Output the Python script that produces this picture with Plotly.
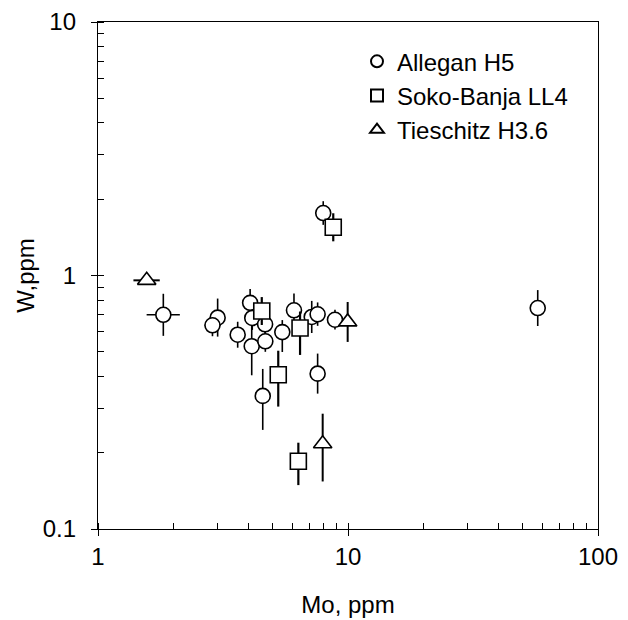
import plotly.graph_objects as go

# ---- Data ----
allegan_mo = [1.825, 3.01, 2.87, 3.62, 4.06, 4.14, 4.66, 4.12, 4.67, 5.46, 6.08, 7.16, 7.56, 8.87, 7.56, 4.56, 7.96, 57.4]
allegan_w = [0.70, 0.682, 0.636, 0.584, 0.78, 0.68, 0.642, 0.526, 0.55, 0.598, 0.729, 0.686, 0.703, 0.669, 0.41, 0.335, 1.764, 0.744]
allegan_w_up = [0.147, 0.129, 0.067, 0.073, 0.105, 0.08, 0.08, 0.158, 0.05, 0.069, 0.12, 0.108, 0.08, 0.064, 0.082, 0.093, 0.2, 0.132]
allegan_w_dn = [0.122, 0.108, 0.06, 0.065, 0.09, 0.07, 0.07, 0.122, 0.05, 0.099, 0.104, 0.093, 0.07, 0.057, 0.068, 0.089, 0.18, 0.112]
allegan_mo_up = [0.30, 0, 0.22, 0, 0, 0, 0, 0, 0, 0, 0, 0, 0, 0, 0, 0.0, 0, 0]
allegan_mo_dn = [0.26, 0, 0.20, 0, 0, 0, 0, 0, 0, 0, 0, 0, 0, 0, 0, 0.3, 0, 0]

soko_mo = [4.52, 6.43, 5.26, 6.33, 8.73]
soko_w = [0.724, 0.621, 0.406, 0.185, 1.55]
soko_w_up = [0.098, 0.10, 0.099, 0.034, 0.21]
soko_w_dn = [0.086, 0.135, 0.102, 0.036, 0.186]

ties_mo = [1.566, 9.97, 7.92]
ties_w = [0.957, 0.656, 0.217]
ties_w_up = [0.03, 0.13, 0.068]
ties_w_dn = [0.03, 0.109, 0.063]
ties_mo_up = [0.2, 0, 0]
ties_mo_dn = [0.18, 0, 0]

x_ticks = [1, 10, 100]
x_ticklabels = ["1", "10", "100"]
y_ticks = [0.1, 1, 10]
y_ticklabels = ["0.1", "1", "10"]

FONT = "Liberation Sans, Arial, sans-serif"
FS = 24
LW = 1.6

def err(up, dn, thick=LW):
    return dict(type="data", symmetric=False, array=up, arrayminus=dn,
                color="black", thickness=thick, width=0)

fig = go.Figure()
fig.add_trace(go.Scatter(
    x=allegan_mo, y=allegan_w, mode="markers", name="Allegan H5",
    marker=dict(symbol="circle", size=15, color="white", line=dict(color="black", width=LW)),
    error_y=err(allegan_w_up, allegan_w_dn),
    error_x=err(allegan_mo_up, allegan_mo_dn),
))
fig.add_trace(go.Scatter(
    x=soko_mo, y=soko_w, mode="markers", name="Soko-Banja LL4",
    marker=dict(symbol="square", size=16, color="white", line=dict(color="black", width=LW)),
    error_y=err(soko_w_up, soko_w_dn, 2.2),
))
fig.add_trace(go.Scatter(
    x=ties_mo, y=ties_w, mode="markers", name="Tieschitz H3.6",
    marker=dict(symbol="triangle-up", size=16, color="white", line=dict(color="black", width=LW)),
    error_y=err(ties_w_up, ties_w_dn, 2.0),
    error_x=err(ties_mo_up, ties_mo_dn, 2.0),
))
# invisible trace on overlay axes (for inner half of major ticks)
fig.add_trace(go.Scatter(x=[x_ticks[1]], y=[y_ticks[1]], xaxis="x2", yaxis="y2",
                         mode="markers", marker=dict(opacity=0), showlegend=False, hoverinfo="skip"))

axis_common = dict(
    type="log", showgrid=False, zeroline=False, showline=True, linecolor="black",
    linewidth=1.3, mirror=True, ticks="outside", ticklen=6, tickwidth=1.3,
    tickcolor="black", tickfont=dict(family=FONT, size=FS, color="black"),
    minor=dict(ticks="inside", ticklen=6, tickwidth=1.1, tickcolor="black", showgrid=False, dtick="D1"),
    automargin=False,
)

fig.update_layout(
    width=628, height=620,
    margin=dict(l=90, r=38, t=14, b=99),
    paper_bgcolor="white", plot_bgcolor="white",
    font=dict(family=FONT, size=FS, color="black"),
    xaxis=dict(axis_common, range=[0, 2], tickvals=x_ticks, ticktext=x_ticklabels,
               title=dict(text="Mo, ppm", font=dict(family=FONT, size=FS), standoff=27)),
    yaxis=dict(axis_common, range=[-1, 1], tickvals=y_ticks, ticktext=y_ticklabels,
               ticklabelstandoff=10,
               title=dict(text="W,ppm", font=dict(family=FONT, size=FS), standoff=1)),
    xaxis2=dict(type="log", range=[0, 2], overlaying="x", anchor="y2", side="bottom",
                showgrid=False, zeroline=False, showline=False, ticks="inside", ticklen=6,
                tickwidth=1.3, tickcolor="black", tickvals=x_ticks, showticklabels=False),
    yaxis2=dict(type="log", range=[-1, 1], overlaying="y", anchor="x2", side="left",
                showgrid=False, zeroline=False, showline=False, ticks="inside", ticklen=6,
                tickwidth=1.3, tickcolor="black", tickvals=y_ticks, showticklabels=False),
    legend=dict(x=0.518, y=0.966, xanchor="left", yanchor="top", bgcolor="rgba(0,0,0,0)",
                font=dict(family=FONT, size=FS), itemsizing="constant", tracegroupgap=0),
    showlegend=True,
)

fig.write_html("out.html")
